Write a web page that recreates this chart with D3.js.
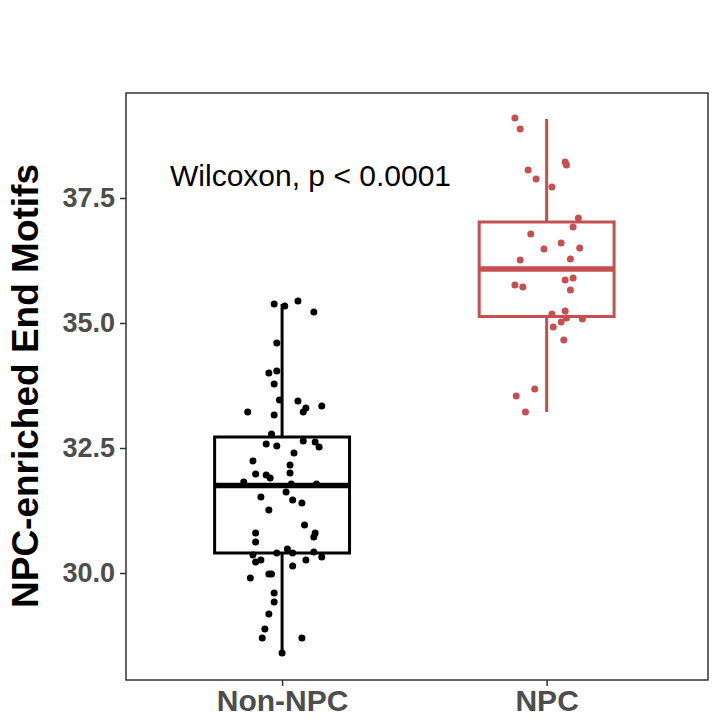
<!DOCTYPE html>
<html><head><meta charset="utf-8">
<script src="https://cdn.jsdelivr.net/npm/d3@7"></script>
<style>body{margin:0;background:#fff}</style>
</head><body>
<svg id="chart" width="722" height="725"></svg>
<script>
const categories = ["Non-NPC", "NPC"]
const colors = ["#000000", "#c5504f"]
const yTicks = [30.0, 32.5, 35.0, 37.5]
// box stats: [whiskerLow, q1, median, q3, whiskerHigh]
const boxStats = [
  [28.40, 30.40, 31.75, 32.72, 35.38],
  [33.22, 35.13, 36.08, 37.02, 39.08]
]
// points: [jitter, value]
const nonNpcPoints = [
  [-0.03,35.38],[0.06,35.44],[0.01,35.34],[0.12,35.22],[-0.02,34.60],[-0.05,34.00],[-0.02,34.04],
  [-0.03,33.78],[-0.01,33.46],[0.06,33.44],[0.09,33.30],[0.08,33.22],[0.15,33.34],[-0.13,33.22],
  [-0.03,33.16],[-0.04,32.78],[-0.06,32.58],[-0.02,32.54],[0.08,32.64],[0.125,32.62],[0.14,32.52],
  [0.045,32.40],[-0.11,32.24],[0.03,32.16],[-0.1,31.98],[-0.06,31.96],[-0.045,31.90],[0.03,32.00],
  [-0.145,31.82],[0.035,31.78],[0.13,31.78],[0.015,31.62],[-0.08,31.52],[0.04,31.46],[0.075,31.40],
  [-0.05,31.26],[0.085,30.96],[-0.1,30.80],[0.125,30.80],[0.12,30.72],[-0.1,30.62],[0.02,30.48],
  [-0.02,30.40],[0.04,30.40],[0.12,30.42],[-0.11,30.36],[-0.1,30.22],[-0.08,30.26],[0.15,30.32],
  [0.09,30.26],[0.04,30.14],[-0.05,29.98],[-0.04,29.98],[-0.12,29.90],[-0.03,29.60],[-0.03,29.42],
  [-0.05,29.18],[-0.065,28.88],[-0.075,28.70],[0.075,28.70],[0,28.40]
]
const npcPoints = [
  [-0.12,39.10],[-0.1,38.88],[0.07,38.22],[0.075,38.16],[-0.07,38.06],[-0.04,37.88],[0.02,37.72],
  [0.12,37.10],[0.1,36.92],[-0.06,36.78],[0.055,36.60],[-0.01,36.48],[0.125,36.50],[-0.1,36.26],
  [0.09,36.28],[0.1,35.90],[0.07,35.86],[-0.12,35.76],[-0.09,35.72],[0.09,35.66],[0.02,35.18],
  [0.07,35.24],[0.075,35.10],[0.055,35.02],[0.135,35.08],[0.025,34.92],[0.065,34.66],[-0.045,33.68],
  [-0.115,33.54],[-0.08,33.22]
]
const allPoints = [nonNpcPoints, npcPoints]

const svg = d3.select("#chart")
const plotL = 126, plotR = 708, plotT = 93, plotB = 680
const font = "Arial, Liberation Sans, sans-serif"

const x = d3.scaleLinear().domain([0.41, 2.61]).range([plotL, plotR])
const y = d3.scaleLinear().domain([30, 37.5]).range([573, 198])
const boxHalf = 0.255

svg.append("rect").attr("x", plotL).attr("y", plotT).attr("width", plotR - plotL).attr("height", plotB - plotT)
  .attr("fill", "none").attr("stroke", "#333").attr("stroke-width", 1.5)

// y axis
const yAxis = svg.append("g").attr("transform", `translate(${plotL},0)`)
  .call(d3.axisLeft(y).tickValues(yTicks).tickFormat(d3.format(".1f")).tickSize(6))
yAxis.select(".domain").remove()
yAxis.selectAll("line").attr("stroke", "#333").attr("stroke-width", 1.5)
yAxis.selectAll("text").attr("font-family", font).attr("font-size", 27)
  .attr("font-weight", "bold").attr("fill", "#4d4d4d").attr("dx", -2)

// x axis
const xAxis = svg.append("g").attr("transform", `translate(0,${plotB})`)
  .call(d3.axisBottom(x).tickValues([1, 2]).tickFormat((d, i) => categories[i]).tickSize(6))
xAxis.select(".domain").remove()
xAxis.selectAll("line").attr("stroke", "#333").attr("stroke-width", 1.5)
xAxis.selectAll("text").attr("font-family", font).attr("font-size", 30)
  .attr("font-weight", "bold").attr("fill", "#4d4d4d").attr("dy", "0.72em")

svg.append("text").attr("transform", "translate(38,386) rotate(-90)").attr("text-anchor", "middle")
  .attr("font-family", font).attr("font-size", 37).attr("font-weight", "bold")
  .text("NPC-enriched End Motifs")

boxStats.forEach((s, i) => {
  const c = i + 1, col = colors[i]
  const g = svg.append("g")
  g.append("line").attr("x1", x(c)).attr("x2", x(c)).attr("y1", y(s[0])).attr("y2", y(s[1]))
    .attr("stroke", col).attr("stroke-width", 3)
  g.append("line").attr("x1", x(c)).attr("x2", x(c)).attr("y1", y(s[3])).attr("y2", y(s[4]))
    .attr("stroke", col).attr("stroke-width", 3)
  g.append("rect").attr("x", x(c - boxHalf)).attr("width", x(c + boxHalf) - x(c - boxHalf))
    .attr("y", y(s[3])).attr("height", y(s[1]) - y(s[3]))
    .attr("fill", "none").attr("stroke", col).attr("stroke-width", 3)
  g.append("line").attr("x1", x(c - boxHalf)).attr("x2", x(c + boxHalf)).attr("y1", y(s[2])).attr("y2", y(s[2]))
    .attr("stroke", col).attr("stroke-width", 5.5)
  svg.append("g").selectAll("circle").data(allPoints[i]).join("circle")
    .attr("cx", d => x(c + d[0])).attr("cy", d => y(d[1])).attr("r", 3.5).attr("fill", col)
})

svg.append("text").attr("x", 170).attr("y", 186)
  .attr("font-family", font).attr("font-size", 30)
  .text("Wilcoxon, p < 0.0001")
</script>
</body></html>
